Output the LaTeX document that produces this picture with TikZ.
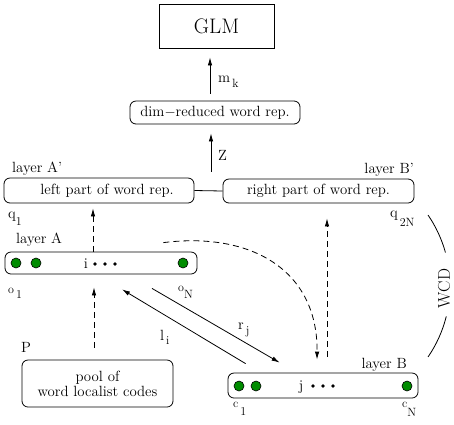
\documentclass[tikz,border=0pt]{standalone}
\usetikzlibrary{arrows.meta}
\definecolor{ngreen}{RGB}{0,140,0}
\newcommand{\subl}[3]{#1\raisebox{#3}{\fontsize{12}{14}\selectfont #2}}
\tikzset{
  rbox/.style={draw, rounded corners=6pt, line width=0.8pt, inner sep=0pt, font=\fontsize{14.8}{17}\selectfont},
  lbl/.style={font=\fontsize{14.8}{17}\selectfont, inner sep=0pt},
  slbl/.style={font=\fontsize{12}{14}\selectfont, inner sep=0pt},
  neuron/.style={circle, draw, fill=ngreen, minimum size=10pt, inner sep=0pt, line width=0.6pt},
  dotn/.style={circle, fill=black, minimum size=3.6pt, inner sep=0pt},
  arr/.style={-{Latex[length=8pt,width=4.5pt]}, line width=0.8pt},
  darr/.style={arr, dash pattern=on 6pt off 4pt},
}
\begin{document}
\begin{tikzpicture}[x=1pt,y=-1pt]
\useasboundingbox (0,0) rectangle (454,424);
% boxes
\node[draw, line width=0.8pt, minimum width=115pt, minimum height=44pt, inner sep=0pt, font=\fontsize{21}{25}\selectfont] (glm) at (216.5,26) {GLM};
\node[rbox, minimum width=170pt, minimum height=23pt] (dim) at (215,112.5) {dim$-$reduced word rep.};
\node[rbox, minimum width=190pt, minimum height=25pt] (leftp) at (99,190.5) {\hspace*{16pt}left part of word rep.};
\node[rbox, minimum width=191pt, minimum height=24pt] (rightp) at (318.5,191) {right part of word rep.};
\node[rbox, minimum width=192pt, minimum height=22pt] (la) at (101,263) {};
\node[rbox, minimum width=190pt, minimum height=25pt] (lb) at (323,385.5) {};
\node[rbox, minimum width=151pt, minimum height=47pt, align=center, font=\fontsize{14.8}{15}\selectfont] (pool) at (97.5,383.5) {pool of\\word localist codes};
% neurons
\node[neuron] (a1) at (16,263) {};
\node[neuron] (a2) at (36,263) {};
\node[neuron] (aN) at (183,263) {};
\node[neuron] (b1) at (239,386) {};
\node[neuron] (b2) at (256,386) {};
\node[neuron] (bN) at (407,386) {};
\node[lbl, anchor=base] (ai) at (86,268) {i};
\node[dotn] (ad1) at (95,264) {};
\node[dotn] (ad2) at (105,264) {};
\node[dotn] (ad3) at (115,264) {};
\node[lbl, anchor=base] (bj) at (301,390) {j};
\node[dotn] (bd1) at (313,386) {};
\node[dotn] (bd2) at (323,386) {};
\node[dotn] (bd3) at (333,386) {};
% labels
\node[lbl, anchor=base west] (tAp) at (12,172) {layer A'};
\node[lbl, anchor=base east] (tBp) at (414,173) {layer B'};
\node[lbl, anchor=base west] (tA) at (16,243) {layer A};
\node[lbl, anchor=base east] (tB) at (407,368) {layer B};
\node[lbl, anchor=base west] (tP) at (21,352) {P};
\node[lbl, anchor=base west] (tq1) at (8,218) {\subl{q}{1}{-7pt}};
\node[lbl, anchor=base west] (tq2) at (390,217) {\subl{q}{\,2N}{-9pt}};
\node[slbl, anchor=base west] (to1) at (8,293) {\subl{o}{\,1}{-5pt}};
\node[slbl, anchor=base west] (toN) at (178,291) {\subl{o}{N}{-7pt}};
\node[slbl, anchor=base west] (tc1) at (233,407) {\subl{c}{\,1}{-8pt}};
\node[slbl, anchor=base west] (tcN) at (402,407) {\subl{c}{N}{-9pt}};
\node[lbl, anchor=base west] (tm) at (218,82) {\subl{m}{\,k}{-5pt}};
\node[lbl, anchor=base west] (tZ) at (218,160) {Z};
\node[lbl, anchor=base west] (tl) at (160,340) {\subl{l}{\,i}{-4pt}};
\node[lbl, anchor=base west] (tr) at (238,329) {\subl{r}{\,j}{-5pt}};
% connectors
\draw[arr, shorten <=7pt, shorten >=9pt] ([xshift=-5pt]dim.north) -- ([xshift=-5pt]dim.north |- glm.south);
\draw[arr, shorten <=6pt, shorten >=9pt] ([xshift=-4pt]dim.south |- leftp.north) -- ([xshift=-4pt]dim.south);
\draw[line width=0.8pt] (leftp.east) -- (rightp.west);
\draw[darr, shorten >=5pt] ([xshift=-8pt]la.north) -- ([xshift=-8pt]la.north |- leftp.south);
\draw[darr, shorten <=12pt, shorten >=13pt] ([xshift=-3.5pt]pool.north) -- ([xshift=-3.5pt]pool.north |- la.south);
\draw[darr, shorten <=16pt, shorten >=15pt] ([xshift=4pt]lb.north) -- ([xshift=4pt]lb.north |- rightp.south);
\draw[darr] ([shift={(-34,-9)}]la.north east) .. controls +(87,-11) and +(1,-90) .. ([shift={(-6,-13)}]lb.north);
\draw[arr] ([shift={(18,-9)}]lb.north west) -- ([shift={(21,15)}]la.south);
\draw[arr] ([shift={(51,14)}]la.south) -- ([shift={(52,-10)}]lb.north west);
% WCD bracket
\coordinate (wc) at (324.4,286);
\node[font=\fontsize{17}{19}\selectfont, rotate=90, inner sep=0pt] (wcd) at (444,288.5) {WCD};
\draw[line width=0.8pt] (wc) ++(-34.4:125.6) arc[start angle=-34.4, end angle=-15.5, radius=125.6];
\draw[line width=0.8pt] (wc) ++(14:125.6) arc[start angle=14, end angle=34.4, radius=125.6];
\end{tikzpicture}
\end{document}
